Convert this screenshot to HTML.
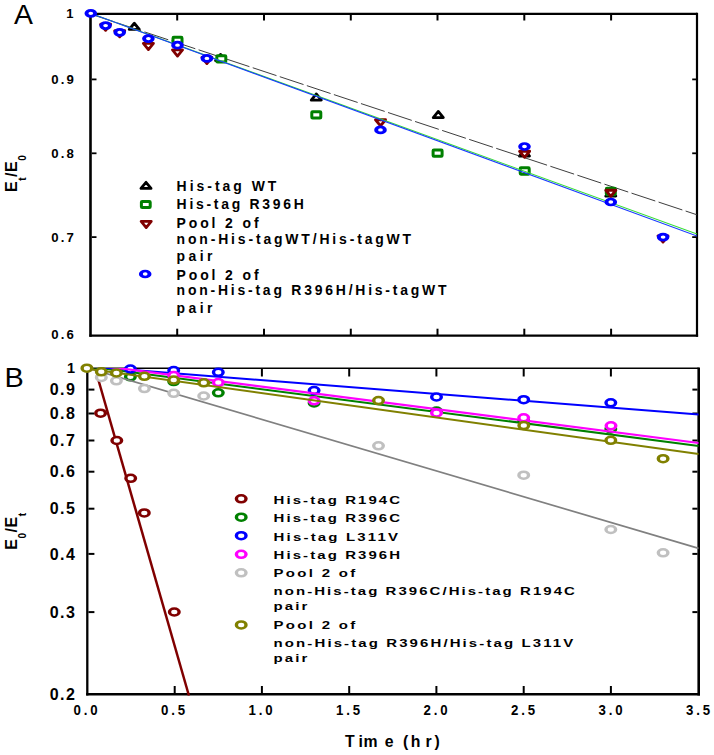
<!DOCTYPE html><html><head><meta charset="utf-8"><style>html,body{margin:0;padding:0;background:#fff;}svg{display:block}text{font-family:"Liberation Sans",sans-serif;}</style></head><body>
<svg width="714" height="755" viewBox="0 0 714 755">
<rect width="714" height="755" fill="#fff"/>
<g stroke="#000" fill="none">
<line x1="90.5" y1="13.9" x2="697.0" y2="13.9" stroke="#000" stroke-width="2.2" />
<line x1="697.0" y1="12.8" x2="697.0" y2="336.8" stroke="#000" stroke-width="2.2" />
<line x1="89.4" y1="335.7" x2="698.1" y2="335.7" stroke="#000" stroke-width="2.2" />
<line x1="90.5" y1="12.8" x2="90.5" y2="336.8" stroke="#000" stroke-width="2.6" />
<line x1="91.8" y1="79.4" x2="96.5" y2="79.4" stroke="#000" stroke-width="1.8" />
<line x1="692.2" y1="79.4" x2="696.0" y2="79.4" stroke="#000" stroke-width="1.8" />
<line x1="91.8" y1="153.3" x2="96.5" y2="153.3" stroke="#000" stroke-width="1.8" />
<line x1="692.2" y1="153.3" x2="696.0" y2="153.3" stroke="#000" stroke-width="1.8" />
<line x1="91.8" y1="237.1" x2="96.5" y2="237.1" stroke="#000" stroke-width="1.8" />
<line x1="692.2" y1="237.1" x2="696.0" y2="237.1" stroke="#000" stroke-width="1.8" />
<line x1="177.2" y1="14.5" x2="177.2" y2="20.5" stroke="#000" stroke-width="2" />
<line x1="177.2" y1="335.0" x2="177.2" y2="328.7" stroke="#000" stroke-width="2" />
<line x1="264.0" y1="14.5" x2="264.0" y2="20.5" stroke="#000" stroke-width="2" />
<line x1="264.0" y1="335.0" x2="264.0" y2="328.7" stroke="#000" stroke-width="2" />
<line x1="350.8" y1="14.5" x2="350.8" y2="20.5" stroke="#000" stroke-width="2" />
<line x1="350.8" y1="335.0" x2="350.8" y2="328.7" stroke="#000" stroke-width="2" />
<line x1="437.5" y1="14.5" x2="437.5" y2="20.5" stroke="#000" stroke-width="2" />
<line x1="437.5" y1="335.0" x2="437.5" y2="328.7" stroke="#000" stroke-width="2" />
<line x1="524.3" y1="14.5" x2="524.3" y2="20.5" stroke="#000" stroke-width="2" />
<line x1="524.3" y1="335.0" x2="524.3" y2="328.7" stroke="#000" stroke-width="2" />
<line x1="611.1" y1="14.5" x2="611.1" y2="20.5" stroke="#000" stroke-width="2" />
<line x1="611.1" y1="335.0" x2="611.1" y2="328.7" stroke="#000" stroke-width="2" />
</g>
<clipPath id="clipA"><rect x="90.5" y="13" width="606.5" height="323"/></clipPath>
<polygon points="129.25,29.35 139.35,29.35 134.30,23.25" fill="#fff" stroke="#000" stroke-width="2.8" stroke-linejoin="round"/>
<polygon points="215.55,60.55 225.65,60.55 220.60,54.45" fill="#fff" stroke="#000" stroke-width="2.8" stroke-linejoin="round"/>
<polygon points="311.25,100.05 321.35,100.05 316.30,93.95" fill="#fff" stroke="#000" stroke-width="2.8" stroke-linejoin="round"/>
<polygon points="433.25,117.55 443.35,117.55 438.30,111.45" fill="#fff" stroke="#000" stroke-width="2.8" stroke-linejoin="round"/>
<polygon points="519.45,156.05 529.55,156.05 524.50,149.95" fill="#fff" stroke="#000" stroke-width="2.8" stroke-linejoin="round"/>
<polygon points="605.75,196.05 615.85,196.05 610.80,189.95" fill="#fff" stroke="#000" stroke-width="2.8" stroke-linejoin="round"/>
<g clip-path="url(#clipA)">
<line x1="90.4" y1="14.0" x2="697.0" y2="214.8" stroke="#333" stroke-width="0.95" stroke-dasharray="25 3.5"/>
</g>
<rect x="173.00" y="37.35" width="9.0" height="6.3" rx="0.8" fill="#fff" stroke="#008000" stroke-width="3"/>
<rect x="216.80" y="55.75" width="9.0" height="6.3" rx="0.8" fill="#fff" stroke="#008000" stroke-width="3"/>
<rect x="311.80" y="111.65" width="9.0" height="6.3" rx="0.8" fill="#fff" stroke="#008000" stroke-width="3"/>
<rect x="433.10" y="149.95" width="9.0" height="6.3" rx="0.8" fill="#fff" stroke="#008000" stroke-width="3"/>
<rect x="520.20" y="167.85" width="9.0" height="6.3" rx="0.8" fill="#fff" stroke="#008000" stroke-width="3"/>
<rect x="606.30" y="188.35" width="9.0" height="6.3" rx="0.8" fill="#fff" stroke="#008000" stroke-width="3"/>
<polygon points="100.55,24.25 110.65,24.25 105.60,30.35" fill="#fff" stroke="#800000" stroke-width="2.8" stroke-linejoin="round"/>
<polygon points="114.65,30.75 124.75,30.75 119.70,36.85" fill="#fff" stroke="#800000" stroke-width="2.8" stroke-linejoin="round"/>
<polygon points="143.35,43.45 153.45,43.45 148.40,49.55" fill="#fff" stroke="#800000" stroke-width="2.8" stroke-linejoin="round"/>
<polygon points="172.45,49.95 182.55,49.95 177.50,56.05" fill="#fff" stroke="#800000" stroke-width="2.8" stroke-linejoin="round"/>
<polygon points="201.85,57.45 211.95,57.45 206.90,63.55" fill="#fff" stroke="#800000" stroke-width="2.8" stroke-linejoin="round"/>
<polygon points="375.45,119.75 385.55,119.75 380.50,125.85" fill="#fff" stroke="#800000" stroke-width="2.8" stroke-linejoin="round"/>
<polygon points="519.55,151.25 529.65,151.25 524.60,157.35" fill="#fff" stroke="#800000" stroke-width="2.8" stroke-linejoin="round"/>
<polygon points="605.75,190.25 615.85,190.25 610.80,196.35" fill="#fff" stroke="#800000" stroke-width="2.8" stroke-linejoin="round"/>
<polygon points="657.95,235.95 668.05,235.95 663.00,242.05" fill="#fff" stroke="#800000" stroke-width="2.8" stroke-linejoin="round"/>
<g clip-path="url(#clipA)">
<line x1="90.4" y1="13.3" x2="697.0" y2="234.0" stroke="#33dd33" stroke-width="1.1" />
<line x1="90.4" y1="13.3" x2="697.0" y2="236.0" stroke="#1a3cff" stroke-width="1.1" />
</g>
<circle transform="translate(90.8,13.3) scale(1.45,1)" r="3.0" fill="#fff" stroke="#0000ff" stroke-width="2.7"/>
<circle transform="translate(105.6,25.6) scale(1.45,1)" r="3.0" fill="#fff" stroke="#0000ff" stroke-width="2.7"/>
<circle transform="translate(119.7,32.3) scale(1.45,1)" r="3.0" fill="#fff" stroke="#0000ff" stroke-width="2.7"/>
<circle transform="translate(148.4,38.6) scale(1.45,1)" r="3.0" fill="#fff" stroke="#0000ff" stroke-width="2.7"/>
<circle transform="translate(177.5,45.2) scale(1.45,1)" r="3.0" fill="#fff" stroke="#0000ff" stroke-width="2.7"/>
<circle transform="translate(206.9,58.4) scale(1.45,1)" r="3.0" fill="#fff" stroke="#0000ff" stroke-width="2.7"/>
<circle transform="translate(380.5,129.9) scale(1.45,1)" r="3.0" fill="#fff" stroke="#0000ff" stroke-width="2.7"/>
<circle transform="translate(524.5,146.5) scale(1.45,1)" r="3.0" fill="#fff" stroke="#0000ff" stroke-width="2.7"/>
<circle transform="translate(610.8,202.0) scale(1.45,1)" r="3.0" fill="#fff" stroke="#0000ff" stroke-width="2.7"/>
<circle transform="translate(663.1,237.1) scale(1.45,1)" r="3.0" fill="#fff" stroke="#0000ff" stroke-width="2.7"/>
<text x="73.6" y="17.7" font-size="13" font-weight="bold" text-anchor="end" >1</text>
<text x="76.0" y="84.1" font-size="13.2" font-weight="bold" text-anchor="end" letter-spacing="2.1" >0.9</text>
<text x="76.0" y="158.0" font-size="13.2" font-weight="bold" text-anchor="end" letter-spacing="2.1" >0.8</text>
<text x="76.0" y="241.8" font-size="13.2" font-weight="bold" text-anchor="end" letter-spacing="2.1" >0.7</text>
<text x="76.0" y="338.6" font-size="13.2" font-weight="bold" text-anchor="end" letter-spacing="2.1" >0.6</text>
<polygon points="140.95,188.45 151.05,188.45 146.00,182.35" fill="#fff" stroke="#000" stroke-width="2.8" stroke-linejoin="round"/>
<rect x="141.40" y="201.55" width="8.8" height="5.9" rx="0.8" fill="#fff" stroke="#008000" stroke-width="3"/>
<polygon points="141.15,221.45 151.25,221.45 146.20,227.55" fill="#fff" stroke="#800000" stroke-width="2.8" stroke-linejoin="round"/>
<circle transform="translate(145.2,274.0) scale(1.45,1)" r="3.0" fill="#fff" stroke="#0000ff" stroke-width="2.7"/>
<g transform="translate(176.6,0) scale(0.9,1) translate(-176.6,0)"><text x="176.6" y="191.2" font-size="15.5" font-weight="bold" text-anchor="start" textLength="110.8" lengthAdjust="spacing" >His-tag WT</text></g>
<g transform="translate(176.6,0) scale(0.9,1) translate(-176.6,0)"><text x="176.6" y="209.4" font-size="15.5" font-weight="bold" text-anchor="start" textLength="141.3" lengthAdjust="spacing" >His-tag R396H</text></g>
<g transform="translate(176.6,0) scale(0.9,1) translate(-176.6,0)"><text x="176.6" y="228.2" font-size="15.5" font-weight="bold" text-anchor="start" textLength="91.1" lengthAdjust="spacing" >Pool 2 of</text></g>
<g transform="translate(176.6,0) scale(0.9,1) translate(-176.6,0)"><text x="176.6" y="244.5" font-size="15.5" font-weight="bold" text-anchor="start" textLength="260.6" lengthAdjust="spacing" >non-His-tagWT/His-tagWT</text></g>
<g transform="translate(176.6,0) scale(0.9,1) translate(-176.6,0)"><text x="176.6" y="261.2" font-size="15.5" font-weight="bold" text-anchor="start" textLength="39.9" lengthAdjust="spacing" >pair</text></g>
<g transform="translate(176.6,0) scale(0.9,1) translate(-176.6,0)"><text x="176.6" y="279.6" font-size="15.5" font-weight="bold" text-anchor="start" textLength="91.1" lengthAdjust="spacing" >Pool 2 of</text></g>
<g transform="translate(176.6,0) scale(0.9,1) translate(-176.6,0)"><text x="176.6" y="295.4" font-size="15.5" font-weight="bold" text-anchor="start" textLength="299.9" lengthAdjust="spacing" >non-His-tag R396H/His-tagWT</text></g>
<g transform="translate(176.6,0) scale(0.9,1) translate(-176.6,0)"><text x="176.6" y="313.3" font-size="15.5" font-weight="bold" text-anchor="start" textLength="39.9" lengthAdjust="spacing" >pair</text></g>
<g transform="translate(13.9,0) scale(1.04,1) translate(-13.9,0)"><text x="13.9" y="23.9" font-size="27.3" font-weight="normal" text-anchor="start" >A</text></g>
<g transform="translate(16.9,191.9) rotate(-90)"><text x="0" y="0" font-size="16" font-weight="bold" letter-spacing="0.5">E<tspan font-size="10" dy="9.2">t</tspan><tspan dy="-9.2">/E</tspan><tspan font-size="10" dy="9.2">0</tspan></text></g>
<g stroke="#000" fill="none">
<line x1="87.3" y1="368.2" x2="698.7" y2="368.2" stroke="#000" stroke-width="1.6" />
<line x1="698.7" y1="367.4" x2="698.7" y2="695.5" stroke="#000" stroke-width="2.6" />
<line x1="86.2" y1="694.3" x2="700.0" y2="694.3" stroke="#000" stroke-width="2.5" />
<line x1="87.3" y1="367.4" x2="87.3" y2="695.5" stroke="#000" stroke-width="2.3" />
<line x1="88.4" y1="389.6" x2="94.4" y2="389.6" stroke="#000" stroke-width="2" />
<line x1="692.4" y1="389.6" x2="697.5" y2="389.6" stroke="#000" stroke-width="2" />
<line x1="88.4" y1="413.5" x2="94.4" y2="413.5" stroke="#000" stroke-width="2" />
<line x1="692.4" y1="413.5" x2="697.5" y2="413.5" stroke="#000" stroke-width="2" />
<line x1="88.4" y1="440.5" x2="94.4" y2="440.5" stroke="#000" stroke-width="2" />
<line x1="692.4" y1="440.5" x2="697.5" y2="440.5" stroke="#000" stroke-width="2" />
<line x1="88.4" y1="471.7" x2="94.4" y2="471.7" stroke="#000" stroke-width="2" />
<line x1="692.4" y1="471.7" x2="697.5" y2="471.7" stroke="#000" stroke-width="2" />
<line x1="88.4" y1="508.7" x2="94.4" y2="508.7" stroke="#000" stroke-width="2" />
<line x1="692.4" y1="508.7" x2="697.5" y2="508.7" stroke="#000" stroke-width="2" />
<line x1="88.4" y1="553.9" x2="94.4" y2="553.9" stroke="#000" stroke-width="2" />
<line x1="692.4" y1="553.9" x2="697.5" y2="553.9" stroke="#000" stroke-width="2" />
<line x1="88.4" y1="612.1" x2="94.4" y2="612.1" stroke="#000" stroke-width="2" />
<line x1="692.4" y1="612.1" x2="697.5" y2="612.1" stroke="#000" stroke-width="2" />
<line x1="174.7" y1="368.8" x2="174.7" y2="376.5" stroke="#000" stroke-width="2" />
<line x1="174.7" y1="693.5" x2="174.7" y2="686.0" stroke="#000" stroke-width="2" />
<line x1="261.9" y1="368.8" x2="261.9" y2="376.5" stroke="#000" stroke-width="2" />
<line x1="261.9" y1="693.5" x2="261.9" y2="686.0" stroke="#000" stroke-width="2" />
<line x1="349.2" y1="368.8" x2="349.2" y2="376.5" stroke="#000" stroke-width="2" />
<line x1="349.2" y1="693.5" x2="349.2" y2="686.0" stroke="#000" stroke-width="2" />
<line x1="436.4" y1="368.8" x2="436.4" y2="376.5" stroke="#000" stroke-width="2" />
<line x1="436.4" y1="693.5" x2="436.4" y2="686.0" stroke="#000" stroke-width="2" />
<line x1="523.7" y1="368.8" x2="523.7" y2="376.5" stroke="#000" stroke-width="2" />
<line x1="523.7" y1="693.5" x2="523.7" y2="686.0" stroke="#000" stroke-width="2" />
<line x1="610.9" y1="368.8" x2="610.9" y2="376.5" stroke="#000" stroke-width="2" />
<line x1="610.9" y1="693.5" x2="610.9" y2="686.0" stroke="#000" stroke-width="2" />
</g>
<clipPath id="clipB"><rect x="87.3" y="368" width="611.4" height="326.3"/></clipPath>
<line x1="97.0" y1="375.0" x2="188.9" y2="695.5" stroke="#800000" stroke-width="2.5" />
<circle transform="translate(100.6,413.2) scale(1.37,1)" r="3.5" fill="#fff" stroke="#800000" stroke-width="2.5"/>
<circle transform="translate(116.8,440.5) scale(1.37,1)" r="3.5" fill="#fff" stroke="#800000" stroke-width="2.5"/>
<circle transform="translate(130.7,478.3) scale(1.37,1)" r="3.5" fill="#fff" stroke="#800000" stroke-width="2.5"/>
<circle transform="translate(144.3,512.9) scale(1.37,1)" r="3.5" fill="#fff" stroke="#800000" stroke-width="2.5"/>
<circle transform="translate(174.3,612.0) scale(1.37,1)" r="3.5" fill="#fff" stroke="#800000" stroke-width="2.5"/>
<g clip-path="url(#clipB)">
<line x1="87.4" y1="366.5" x2="698.7" y2="445.9" stroke="#008000" stroke-width="2" />
</g>
<circle transform="translate(130.4,376.8) scale(1.37,1)" r="3.5" fill="#fff" stroke="#008000" stroke-width="2.5"/>
<circle transform="translate(173.7,381.6) scale(1.37,1)" r="3.5" fill="#fff" stroke="#008000" stroke-width="2.5"/>
<circle transform="translate(218.3,392.8) scale(1.37,1)" r="3.5" fill="#fff" stroke="#008000" stroke-width="2.5"/>
<circle transform="translate(314.1,403.0) scale(1.37,1)" r="3.5" fill="#fff" stroke="#008000" stroke-width="2.5"/>
<circle transform="translate(436.5,411.0) scale(1.37,1)" r="3.5" fill="#fff" stroke="#008000" stroke-width="2.5"/>
<circle transform="translate(523.7,421.0) scale(1.37,1)" r="3.5" fill="#fff" stroke="#008000" stroke-width="2.5"/>
<circle transform="translate(610.8,429.0) scale(1.37,1)" r="3.5" fill="#fff" stroke="#008000" stroke-width="2.5"/>
<g clip-path="url(#clipB)">
<line x1="87.4" y1="366.4" x2="698.7" y2="414.5" stroke="#0000ff" stroke-width="2" />
</g>
<circle transform="translate(130.4,369.0) scale(1.37,1)" r="3.5" fill="#fff" stroke="#0000ff" stroke-width="2.5"/>
<circle transform="translate(173.7,370.5) scale(1.37,1)" r="3.5" fill="#fff" stroke="#0000ff" stroke-width="2.5"/>
<circle transform="translate(218.3,372.3) scale(1.37,1)" r="3.5" fill="#fff" stroke="#0000ff" stroke-width="2.5"/>
<circle transform="translate(314.1,390.6) scale(1.37,1)" r="3.5" fill="#fff" stroke="#0000ff" stroke-width="2.5"/>
<circle transform="translate(436.5,397.0) scale(1.37,1)" r="3.5" fill="#fff" stroke="#0000ff" stroke-width="2.5"/>
<circle transform="translate(523.7,399.7) scale(1.37,1)" r="3.5" fill="#fff" stroke="#0000ff" stroke-width="2.5"/>
<circle transform="translate(610.8,402.8) scale(1.37,1)" r="3.5" fill="#fff" stroke="#0000ff" stroke-width="2.5"/>
<g clip-path="url(#clipB)">
<line x1="87.4" y1="364.1" x2="698.7" y2="443.0" stroke="#ff00ff" stroke-width="2.2" />
</g>
<circle transform="translate(173.7,375.5) scale(1.37,1)" r="3.5" fill="#fff" stroke="#ff00ff" stroke-width="2.5"/>
<circle transform="translate(218.3,382.6) scale(1.37,1)" r="3.5" fill="#fff" stroke="#ff00ff" stroke-width="2.5"/>
<circle transform="translate(314.1,400.8) scale(1.37,1)" r="3.5" fill="#fff" stroke="#ff00ff" stroke-width="2.5"/>
<circle transform="translate(436.5,413.0) scale(1.37,1)" r="3.5" fill="#fff" stroke="#ff00ff" stroke-width="2.5"/>
<circle transform="translate(523.7,417.8) scale(1.37,1)" r="3.5" fill="#fff" stroke="#ff00ff" stroke-width="2.5"/>
<circle transform="translate(611.0,425.8) scale(1.37,1)" r="3.5" fill="#fff" stroke="#ff00ff" stroke-width="2.5"/>
<g clip-path="url(#clipB)">
<line x1="87.3" y1="367.9" x2="698.7" y2="548.4" stroke="#808080" stroke-width="1.7" />
</g>
<circle transform="translate(101.3,377.4) scale(1.37,1)" r="3.5" fill="#fff" stroke="#c0c0c0" stroke-width="2.5"/>
<circle transform="translate(116.4,380.8) scale(1.37,1)" r="3.5" fill="#fff" stroke="#c0c0c0" stroke-width="2.5"/>
<circle transform="translate(144.4,388.6) scale(1.37,1)" r="3.5" fill="#fff" stroke="#c0c0c0" stroke-width="2.5"/>
<circle transform="translate(173.7,393.3) scale(1.37,1)" r="3.5" fill="#fff" stroke="#c0c0c0" stroke-width="2.5"/>
<circle transform="translate(203.7,396.0) scale(1.37,1)" r="3.5" fill="#fff" stroke="#c0c0c0" stroke-width="2.5"/>
<circle transform="translate(378.5,445.8) scale(1.37,1)" r="3.5" fill="#fff" stroke="#c0c0c0" stroke-width="2.5"/>
<circle transform="translate(523.7,475.2) scale(1.37,1)" r="3.5" fill="#fff" stroke="#c0c0c0" stroke-width="2.5"/>
<circle transform="translate(610.8,529.5) scale(1.37,1)" r="3.5" fill="#fff" stroke="#c0c0c0" stroke-width="2.5"/>
<circle transform="translate(663.1,552.8) scale(1.37,1)" r="3.5" fill="#fff" stroke="#c0c0c0" stroke-width="2.5"/>
<g clip-path="url(#clipB)">
<line x1="87.4" y1="368.8" x2="698.7" y2="454.1" stroke="#808000" stroke-width="2.0" />
</g>
<circle transform="translate(86.9,368.2) scale(1.37,1)" r="3.5" fill="#fff" stroke="#808000" stroke-width="2.5"/>
<circle transform="translate(101.3,371.8) scale(1.37,1)" r="3.5" fill="#fff" stroke="#808000" stroke-width="2.5"/>
<circle transform="translate(116.4,372.9) scale(1.37,1)" r="3.5" fill="#fff" stroke="#808000" stroke-width="2.5"/>
<circle transform="translate(144.4,376.3) scale(1.37,1)" r="3.5" fill="#fff" stroke="#808000" stroke-width="2.5"/>
<circle transform="translate(173.7,380.1) scale(1.37,1)" r="3.5" fill="#fff" stroke="#808000" stroke-width="2.5"/>
<circle transform="translate(203.8,382.8) scale(1.37,1)" r="3.5" fill="#fff" stroke="#808000" stroke-width="2.5"/>
<circle transform="translate(378.5,400.6) scale(1.37,1)" r="3.5" fill="#fff" stroke="#808000" stroke-width="2.5"/>
<circle transform="translate(523.8,425.6) scale(1.37,1)" r="3.5" fill="#fff" stroke="#808000" stroke-width="2.5"/>
<circle transform="translate(610.8,440.3) scale(1.37,1)" r="3.5" fill="#fff" stroke="#808000" stroke-width="2.5"/>
<circle transform="translate(663.1,458.7) scale(1.37,1)" r="3.5" fill="#fff" stroke="#808000" stroke-width="2.5"/>
<text x="75.0" y="373.2" font-size="14.5" font-weight="bold" text-anchor="end" >1</text>
<text x="76.4" y="395.3" font-size="16" font-weight="bold" text-anchor="end" letter-spacing="1.5" >0.9</text>
<text x="76.4" y="419.2" font-size="16" font-weight="bold" text-anchor="end" letter-spacing="1.5" >0.8</text>
<text x="76.4" y="446.2" font-size="16" font-weight="bold" text-anchor="end" letter-spacing="1.5" >0.7</text>
<text x="76.4" y="477.4" font-size="16" font-weight="bold" text-anchor="end" letter-spacing="1.5" >0.6</text>
<text x="76.4" y="514.4" font-size="16" font-weight="bold" text-anchor="end" letter-spacing="1.5" >0.5</text>
<text x="76.4" y="559.6" font-size="16" font-weight="bold" text-anchor="end" letter-spacing="1.5" >0.4</text>
<text x="76.4" y="617.8" font-size="16" font-weight="bold" text-anchor="end" letter-spacing="1.5" >0.3</text>
<text x="76.4" y="699.9" font-size="16" font-weight="bold" text-anchor="end" letter-spacing="1.5" >0.2</text>
<g transform="translate(87.0,0) scale(0.86,1) translate(-87.0,0)"><text x="87.0" y="714.8" font-size="15.4" font-weight="bold" text-anchor="middle" letter-spacing="3.3" >0.0</text></g>
<g transform="translate(174.5,0) scale(0.86,1) translate(-174.5,0)"><text x="174.5" y="714.8" font-size="15.4" font-weight="bold" text-anchor="middle" letter-spacing="3.3" >0.5</text></g>
<g transform="translate(262.0,0) scale(0.86,1) translate(-262.0,0)"><text x="262.0" y="714.8" font-size="15.4" font-weight="bold" text-anchor="middle" letter-spacing="3.3" >1.0</text></g>
<g transform="translate(349.4,0) scale(0.86,1) translate(-349.4,0)"><text x="349.4" y="714.8" font-size="15.4" font-weight="bold" text-anchor="middle" letter-spacing="3.3" >1.5</text></g>
<g transform="translate(436.9,0) scale(0.86,1) translate(-436.9,0)"><text x="436.9" y="714.8" font-size="15.4" font-weight="bold" text-anchor="middle" letter-spacing="3.3" >2.0</text></g>
<g transform="translate(524.4,0) scale(0.86,1) translate(-524.4,0)"><text x="524.4" y="714.8" font-size="15.4" font-weight="bold" text-anchor="middle" letter-spacing="3.3" >2.5</text></g>
<g transform="translate(611.9,0) scale(0.86,1) translate(-611.9,0)"><text x="611.9" y="714.8" font-size="15.4" font-weight="bold" text-anchor="middle" letter-spacing="3.3" >3.0</text></g>
<g transform="translate(699.4,0) scale(0.86,1) translate(-699.4,0)"><text x="699.4" y="714.8" font-size="15.4" font-weight="bold" text-anchor="middle" letter-spacing="3.3" >3.5</text></g>
<text x="345.0 358.4 363.4 384.8 403.0 410.7 425.5 434.6" y="746.5" font-size="15.8" font-weight="bold">Time(hr)</text>
<circle transform="translate(241.2,498.8) scale(1.37,1)" r="3.5" fill="#fff" stroke="#800000" stroke-width="2.5"/>
<circle transform="translate(241.2,517.2) scale(1.37,1)" r="3.5" fill="#fff" stroke="#008000" stroke-width="2.5"/>
<circle transform="translate(241.2,535.7) scale(1.37,1)" r="3.5" fill="#fff" stroke="#0000ff" stroke-width="2.5"/>
<circle transform="translate(241.2,554.3) scale(1.37,1)" r="3.5" fill="#fff" stroke="#ff00ff" stroke-width="2.5"/>
<circle transform="translate(241.2,572.8) scale(1.37,1)" r="3.5" fill="#fff" stroke="#c0c0c0" stroke-width="2.5"/>
<circle transform="translate(241.2,624.9) scale(1.37,1)" r="3.5" fill="#fff" stroke="#808000" stroke-width="2.5"/>
<g transform="translate(273.6,0) scale(1.27,1) translate(-273.6,0)"><text x="273.6" y="503.9" font-size="11.8" font-weight="bold" text-anchor="start" textLength="99.6" lengthAdjust="spacing" >His-tag R194C</text></g>
<g transform="translate(273.6,0) scale(1.27,1) translate(-273.6,0)"><text x="273.6" y="522.1" font-size="11.8" font-weight="bold" text-anchor="start" textLength="99.6" lengthAdjust="spacing" >His-tag R396C</text></g>
<g transform="translate(273.6,0) scale(1.27,1) translate(-273.6,0)"><text x="273.6" y="540.7" font-size="11.8" font-weight="bold" text-anchor="start" textLength="98.0" lengthAdjust="spacing" >His-tag L311V</text></g>
<g transform="translate(273.6,0) scale(1.27,1) translate(-273.6,0)"><text x="273.6" y="559.2" font-size="11.8" font-weight="bold" text-anchor="start" textLength="99.6" lengthAdjust="spacing" >His-tag R396H</text></g>
<g transform="translate(273.6,0) scale(1.27,1) translate(-273.6,0)"><text x="273.6" y="577.5" font-size="11.8" font-weight="bold" text-anchor="start" textLength="64.3" lengthAdjust="spacing" >Pool 2 of</text></g>
<g transform="translate(273.6,0) scale(1.27,1) translate(-273.6,0)"><text x="273.6" y="594.7" font-size="11.8" font-weight="bold" text-anchor="start" textLength="237.2" lengthAdjust="spacing" >non-His-tag R396C/His-tag R194C</text></g>
<g transform="translate(273.6,0) scale(1.27,1) translate(-273.6,0)"><text x="273.6" y="610.3" font-size="11.8" font-weight="bold" text-anchor="start" textLength="26.5" lengthAdjust="spacing" >pair</text></g>
<g transform="translate(273.6,0) scale(1.27,1) translate(-273.6,0)"><text x="273.6" y="629.2" font-size="11.8" font-weight="bold" text-anchor="start" textLength="64.3" lengthAdjust="spacing" >Pool 2 of</text></g>
<g transform="translate(273.6,0) scale(1.27,1) translate(-273.6,0)"><text x="273.6" y="646.7" font-size="11.8" font-weight="bold" text-anchor="start" textLength="235.9" lengthAdjust="spacing" >non-His-tag R396H/His-tag L311V</text></g>
<g transform="translate(273.6,0) scale(1.27,1) translate(-273.6,0)"><text x="273.6" y="662.0" font-size="11.8" font-weight="bold" text-anchor="start" textLength="26.5" lengthAdjust="spacing" >pair</text></g>
<g transform="translate(4.6,0) scale(1.07,1) translate(-4.6,0)"><text x="4.6" y="386.8" font-size="27" font-weight="normal" text-anchor="start" >B</text></g>
<g transform="translate(16.9,549.7) rotate(-90)"><text x="0" y="0" font-size="16" font-weight="bold" letter-spacing="0.5">E<tspan font-size="10" dy="9.2">0</tspan><tspan dy="-9.2">/E</tspan><tspan font-size="10" dy="9.2">t</tspan></text></g>
</svg></body></html>
